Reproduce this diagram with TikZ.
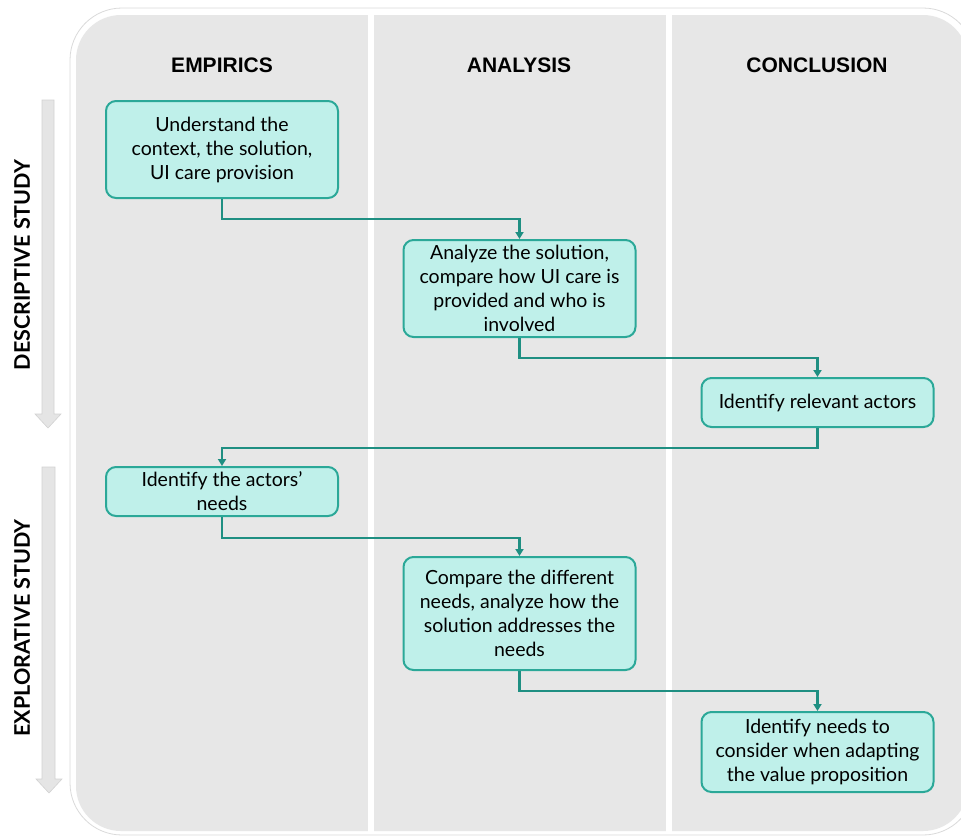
\documentclass[tikz,border=0pt]{standalone}
\usepackage{fontspec}
\setmainfont{Lato}
\newfontfamily\hdrfont{Liberation Sans}
\usetikzlibrary{arrows.meta}
\definecolor{panel}{HTML}{E7E7E7}
\definecolor{boxfill}{HTML}{BFF0EA}
\definecolor{boxline}{HTML}{2BA898}
\definecolor{connc}{HTML}{1F8F82}
\definecolor{arrowgray}{HTML}{E5E5E5}
\definecolor{arrowedge}{HTML}{D2D2D2}
\definecolor{outline}{HTML}{DADADA}
\begin{document}
\begin{tikzpicture}[x=1pt,y=-1pt,
  stepbox/.style={draw=boxline, fill=boxfill, line width=2pt, rounded corners=10pt,
    minimum width=232pt, align=center, inner sep=0pt,
    font=\fontsize{19.5}{24}\selectfont},
  conn/.style={draw=connc, line width=2.4pt, -{Triangle[length=7pt,width=8pt]}},
  hdrtext/.style={font=\hdrfont\bfseries\fontsize{21}{24}\selectfont},
  sidetext/.style={font=\bfseries\fontsize{21.5}{24}\selectfont, rotate=90},
  sidearrow/.style={fill=arrowgray, draw=arrowedge, line width=0.6pt}
]
\useasboundingbox (0,0) rectangle (961,836);
\clip (0,0) rectangle (961,836);
% background
\draw[outline, fill=white, line width=0.8pt, rounded corners=52pt] (70,8) rectangle (975,835);
\fill[panel, rounded corners=45pt] (76,15) rectangle (968,831);
\fill[white] (368,10) rectangle (374,834);
\fill[white] (665.5,10) rectangle (671.5,834);
% headers
\node[hdrtext] (h1) at (222,65) {EMPIRICS};
\node[hdrtext] (h2) at (519,65) {ANALYSIS};
\node[hdrtext] (h3) at (817,65) {CONCLUSION};
% side arrows
\filldraw[sidearrow] (42,100) -- (54,100) -- (54,414) -- (61,414) -- (48,428) -- (35,414) -- (42,414) -- cycle;
\filldraw[sidearrow] (42,467) -- (55,467) -- (55,779) -- (62,779) -- (49,793) -- (36,779) -- (42,779) -- cycle;
\node[sidetext] (s1) at (22,265) {DESCRIPTIVE STUDY};
\node[sidetext] (s2) at (22,628) {EXPLORATIVE STUDY};
% boxes
\node[stepbox, minimum height=97pt] (b1) at (222,149.5) {Understand the\\context, the solution,\\UI care provision};
\node[stepbox, minimum height=97pt] (b2) at (519.5,288.5) {Analyze the solution,\\compare how UI care is\\provided and who is\\involved};
\node[stepbox, minimum height=49pt] (b3) at (817.5,402.5) {Identify relevant actors};
\node[stepbox, minimum height=49pt] (b4) at (222,491.5) {Identify the actors'\\needs};
\node[stepbox, minimum height=113pt] (b5) at (519.5,613.5) {Compare the different\\needs, analyze how the\\solution addresses the\\needs};
\node[stepbox, minimum height=80pt] (b6) at (817.5,752) {Identify needs to\\consider when adapting\\the value proposition};
% connectors
\draw[conn] (b1.south) -- ++(0,20) -| (b2.north);
\draw[conn] (b2.south) -- ++(0,20) -| (b3.north);
\draw[conn] (b3.south) -- ++(0,20) -| (b4.north);
\draw[conn] (b4.south) -- ++(0,21) -| (b5.north);
\draw[conn] (b5.south) -- ++(0,20) -| (b6.north);
\end{tikzpicture}
\end{document}
